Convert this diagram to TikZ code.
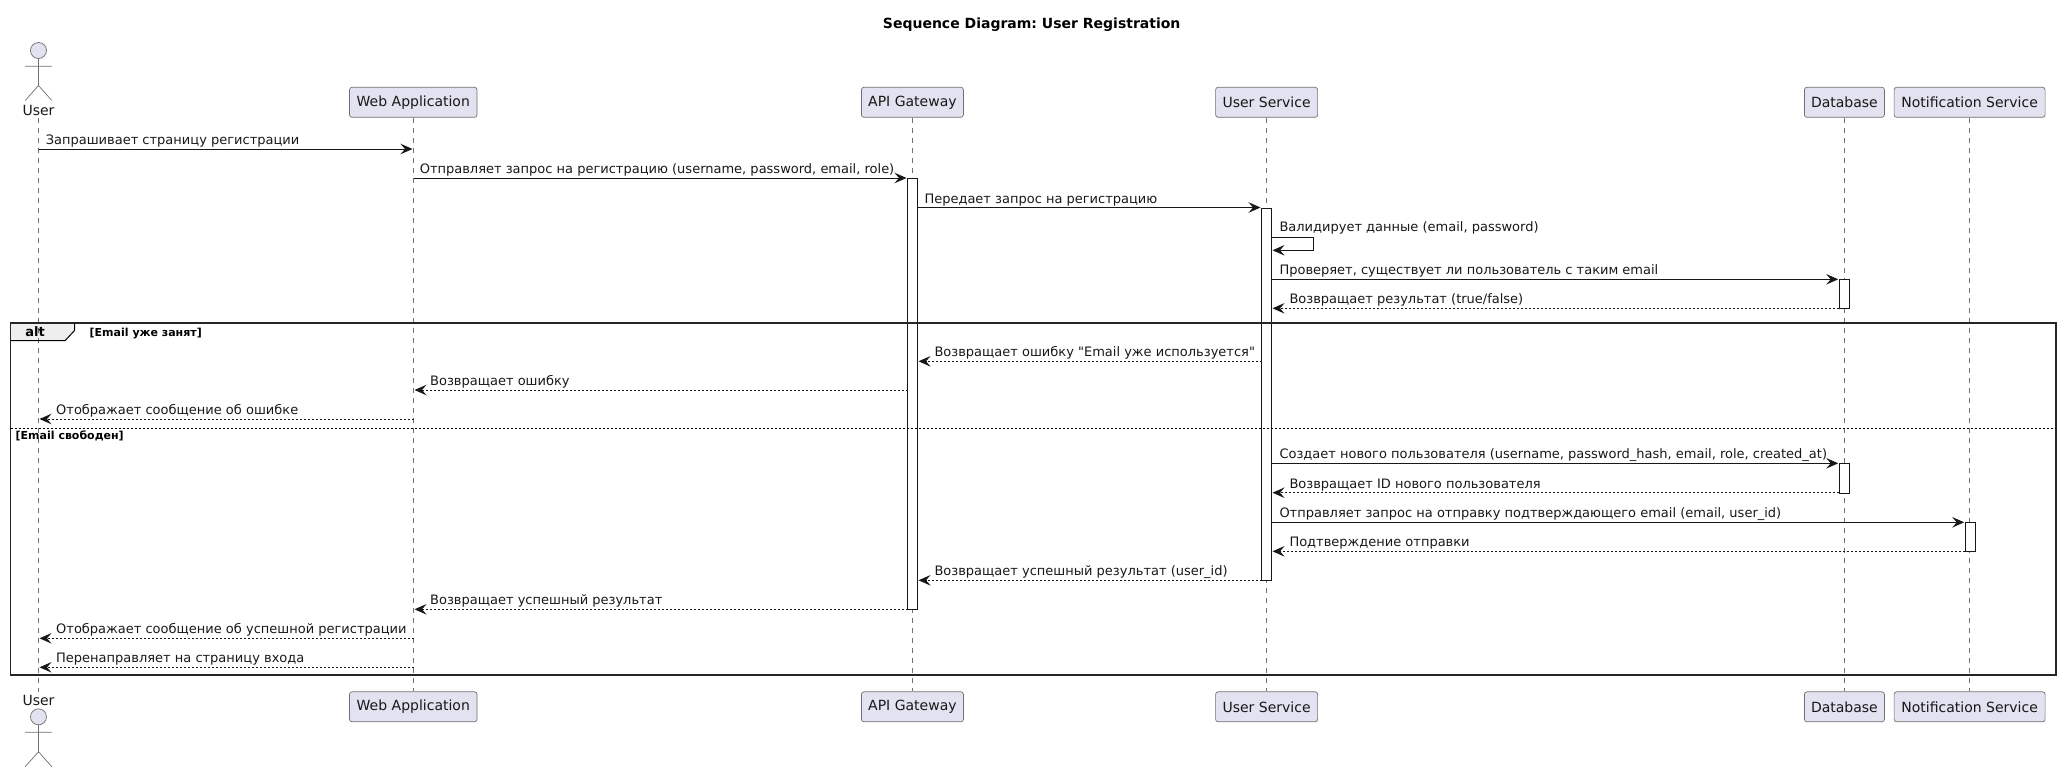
\documentclass[tikz,border=0pt]{standalone}
\usepackage{fontspec}
\setmainfont{DejaVu Sans}
\newfontfamily\plainfam{DejaVu Sans}
\usetikzlibrary{arrows.meta}
\definecolor{ink}{HTML}{181818}
\definecolor{thinline}{HTML}{707070}
\definecolor{partfill}{HTML}{E2E2F0}
\definecolor{tabfill}{HTML}{EEEEEE}
\tikzset{
  partbox/.style={draw=thinline,line width=.7pt,fill=partfill,rounded corners=2.5pt,inner sep=0pt,minimum height=30pt,text=ink,font=\fontsize{14}{16}\selectfont},
  lifeline/.style={draw=thinline,line width=.6pt,dash pattern=on 5pt off 5pt},
  actorline/.style={draw=thinline,line width=.7pt},
  actorhead/.style={circle,draw=thinline,line width=.7pt,fill=partfill,minimum size=16pt,inner sep=0pt},
  actorname/.style={anchor=base,inner sep=0pt,text=ink,font=\fontsize{14}{16}\selectfont},
  actbar/.style={draw=ink,line width=1pt,fill=white,minimum width=10pt,inner sep=0pt,anchor=north},
  syncmsg/.style={draw=ink,line width=1pt,-{Stealth[length=12pt,width=10.5pt,inset=4.5pt]}},
  replymsg/.style={syncmsg,dash pattern=on 2pt off 2pt},
  msglabel/.style={anchor=base west,inner sep=0pt,text=ink,font=\plainfam\fontsize{13}{15}\selectfont},
  framebox/.style={draw=black!85,line width=1.8pt},
  guard/.style={anchor=base west,inner sep=0pt,font=\fontsize{11}{13}\selectfont\bfseries},
}
% name, x from, x to, y, style, label x, label
\newcommand{\seqmsg}[7]{%
  \coordinate (#1a) at (#2,#4);
  \coordinate (#1b) at (#3,#4);
  \draw[#5] (#1a) -- (#1b);
  \node[msglabel] (#1t) at (#6,#4-4.5) {#7};
}
\begin{document}
\begin{tikzpicture}[x=1pt,y=-1pt]
\frenchspacing
\useasboundingbox (0,0) rectangle (2061,772);
\node[anchor=base,inner sep=0pt,font=\fontsize{14}{16}\selectfont\bfseries] (title) at (1031.7,28) {Sequence Diagram: User Registration};

% alt tab (under the lifelines)
\coordinate (fTL) at (10.5,323.3);
\coordinate (fBR) at (2055.7,675);
\coordinate (elseL) at (10.5,428.3);
\coordinate (elseR) at (2055.7,428.3);
\fill[tabfill] (fTL) -- (74.5,323.3) -- (74.5,330.5) -- (65,340.7) -- (10.5,340.7) -- cycle;

% participants
\node[partbox,minimum width=127.5pt] (webT) at (413.3,102.3) {Web Application};
\node[partbox,minimum width=102pt] (apiT) at (912.4,102.3) {API Gateway};
\node[partbox,minimum width=102pt] (usT) at (1266.6,102.3) {User Service};
\node[partbox,minimum width=80pt] (dbT) at (1844.4,102.3) {Database};
\node[partbox,minimum width=151pt] (nsT) at (1969.6,102.3) {Notification Service};
\node[partbox,minimum width=127.5pt] (webB) at (413.3,706.8) {Web Application};
\node[partbox,minimum width=102pt] (apiB) at (912.4,706.8) {API Gateway};
\node[partbox,minimum width=102pt] (usB) at (1266.6,706.8) {User Service};
\node[partbox,minimum width=80pt] (dbB) at (1844.4,706.8) {Database};
\node[partbox,minimum width=151pt] (nsB) at (1969.6,706.8) {Notification Service};

% actors
\node[actorhead] (headT) at (38.5,50.5) {};
\draw[actorline] (headT.south) -- (38.5,85.5) (25.2,66.2) -- (51.8,66.2) (25.2,100.5) -- (38.5,85.5) -- (51.8,100.5);
\node[actorname] (userT) at (38.5,115) {User};
\node[actorhead] (headB) at (38.5,716.8) {};
\draw[actorline] (headB.south) -- (38.5,751.7) (25.2,732.3) -- (51.8,732.3) (25.2,766.7) -- (38.5,751.7) -- (51.8,766.7);
\node[actorname] (userB) at (38.5,705) {User};

% lifelines
\coordinate (uTop) at (38.5,117.5);
\coordinate (uBot) at (38.5,691.5);
\draw[lifeline] (uTop) -- (uBot);
\draw[lifeline] (webT.south) -- (webB.north);
\draw[lifeline] (apiT.south) -- (apiB.north);
\draw[lifeline] (usT.south) -- (usB.north);
\draw[lifeline] (dbT.south) -- (dbB.north);
\draw[lifeline] (nsT.south) -- (nsB.north);

% activations
\node[actbar,minimum height=431.3pt] (apiAct) at (912.7,178) {};
\node[actbar,minimum height=372.8pt] (usAct) at (1266.7,207.5) {};
\node[actbar,minimum height=29pt] (dbAct1) at (1844.3,279.3) {};
\node[actbar,minimum height=29.4pt] (dbAct2) at (1844.3,463.3) {};
\node[actbar,minimum height=29pt] (nsAct) at (1970.4,522.3) {};

% alt frame
\draw[framebox] (fTL) rectangle (fBR);
\draw[draw=black,line width=1pt] (74.5,323.3) -- (74.5,330.5) -- (65,340.7) -- (10.5,340.7);
\draw[draw=black,line width=1pt,dash pattern=on 2pt off 2pt] (elseL) -- (elseR);
\node[anchor=base,inner sep=0pt,font=\fontsize{13}{15}\selectfont\bfseries] (altT) at (35,336) {alt};
\node[guard] (g1) at (89.5,336) {[Email уже занят]};
\node[guard] (g2) at (15.5,439.5) {[Email свободен]};

% messages
\seqmsg{m1}{38.5}{412.5}{149}{syncmsg}{45.6}{Запрашивает страницу регистрации}
\seqmsg{m2}{413.5}{906.5}{178}{syncmsg}{419.6}{Отправляет запрос на регистрацию (username, password, email, role)}
\seqmsg{m3}{917.7}{1260.5}{207.5}{syncmsg}{924.3}{Передает запрос на регистрацию}
\coordinate (s1) at (1271.7,237.3);
\coordinate (s2) at (1313.5,237.3);
\coordinate (s3) at (1313.5,250.3);
\coordinate (s4) at (1272.5,250.3);
\draw[syncmsg] (s1) -- (s2) -- (s3) -- (s4);
\node[msglabel] (selfT) at (1279.3,231.7) {Валидирует данные (email, password)};
\seqmsg{m5}{1271.7}{1838.2}{279.3}{syncmsg}{1279.3}{Проверяет, существует ли пользователь с таким email}
\seqmsg{m6}{1839.3}{1272.5}{308.3}{replymsg}{1289.3}{Возвращает результат (true/false)}
\seqmsg{m7}{1261.7}{918.5}{361.3}{replymsg}{934.3}{Возвращает ошибку "Email уже используется"}
\seqmsg{m8}{907.7}{414.5}{390}{replymsg}{430}{Возвращает ошибку}
\seqmsg{m9}{413.5}{39.5}{419}{replymsg}{56}{Отображает сообщение об ошибке}
\seqmsg{m10}{1271.7}{1838.2}{463.3}{syncmsg}{1279.3}{Создает нового пользователя (username, password\_hash, email, role, created\_at)}
\seqmsg{m11}{1839.3}{1272.5}{492.7}{replymsg}{1289.3}{Возвращает ID нового пользователя}
\seqmsg{m12}{1271.7}{1964.2}{522.3}{syncmsg}{1279.3}{Отправляет запрос на отправку подтверждающего email (email, user\_id)}
\seqmsg{m13}{1965.3}{1272.5}{551.3}{replymsg}{1289.3}{Подтверждение отправки}
\seqmsg{m14}{1261.7}{918.5}{580.3}{replymsg}{934.3}{Возвращает успешный результат (user\_id)}
\seqmsg{m15}{907.7}{414.5}{609.3}{replymsg}{430}{Возвращает успешный результат}
\seqmsg{m16}{413.5}{39.5}{638.3}{replymsg}{56}{Отображает сообщение об успешной регистрации}
\seqmsg{m17}{413.5}{39.5}{667.3}{replymsg}{56}{Перенаправляет на страницу входа}
\end{tikzpicture}
\end{document}
